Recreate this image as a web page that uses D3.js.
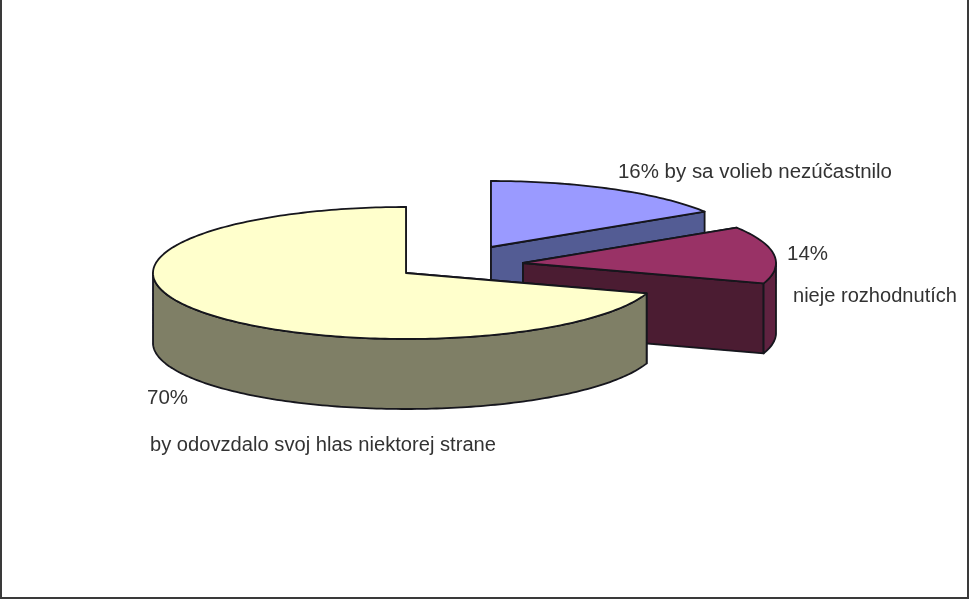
<!DOCTYPE html>
<html>
<head>
<meta charset="utf-8">
<script src="https://cdn.jsdelivr.net/npm/d3@7"></script>
<style>
html,body{margin:0;padding:0;background:#fff;overflow:hidden}
svg{display:block}
text{font-family:"Liberation Sans",Arial,sans-serif;font-size:20px;fill:#333}
</style>
</head>
<body>
<script>
const values = [16, 14, 70];
const percentLabels = ["16%", "14%", "70%"];
const categoryLabels = ["by sa volieb nezúčastnilo", "nieje rozhodnutích", "by odovzdalo svoj hlas niektorej strane"];
const topColors = ["#9a9aff", "#993366", "#ffffcc"];
const cutColors = ["#525c94", "#4c1a32", "#7f7f66"];
const sideColors = ["#525c94", "#5e2440", "#7f7f66"];

const W = 969, H = 599;
const RX = 253, RY = 66, DEPTH = 70;
const centers = [[491, 247], [523, 263], [406, 273]];
const INK = "#14141c";

const svg = d3.select("body").append("svg").attr("width", W).attr("height", H);
svg.append("defs").append("filter").attr("id", "soft")
  .append("feGaussianBlur").attr("stdDeviation", 0.5);

const pie = d3.pie().value(d => d).sort(null);
const arcs = pie(values);

const xs = d3.scaleLinear().domain([-1, 1]).range([-RX, RX]);
const ys = d3.scaleLinear().domain([-1, 1]).range([RY, -RY]);
const line = d3.line();
const pt = (c, a, dz = 0) => [c[0] + xs(Math.sin(a)), c[1] + ys(Math.cos(a)) + dz];
const sweep = (c, a0, a1, dz = 0) => {
  const n = Math.max(2, Math.ceil((a1 - a0) / 0.02));
  return d3.range(n + 1).map(i => pt(c, a0 + (a1 - a0) * i / n, dz));
};
const g = svg.append("g").attr("filter", "url(#soft)");
const poly = (pts, fill) => g.append("path").attr("d", line(pts) + "Z")
  .attr("fill", fill).attr("stroke", INK).attr("stroke-width", 1.8).attr("stroke-linejoin", "round");

arcs.forEach((d, i) => {
  const c = centers[i], a0 = d.startAngle, a1 = d.endAngle;
  const base = [c[0], c[1] + DEPTH];
  [a0, a1].forEach(a => {
    poly([c, pt(c, a), pt(c, a, DEPTH), base], cutColors[i]);
  });
  const f0 = Math.max(a0, Math.PI / 2), f1 = Math.min(a1, 3 * Math.PI / 2);
  if (f1 > f0) {
    poly([...sweep(c, f0, f1), ...sweep(c, f0, f1, DEPTH).reverse()], sideColors[i]);
  }
  poly([c, ...sweep(c, a0, a1)], topColors[i]);
});

// Window frame: left, right and bottom edges
svg.append("path").attr("d", `M1,0V${H - 1}H${W - 1}V0`).attr("fill", "none")
  .attr("stroke", "#3a3a3a").attr("stroke-width", 2);

const t = svg.append("g").attr("filter", "url(#soft)");
const label = (s, x, y, w) => t.append("text").attr("x", x).attr("y", y)
  .attr("textLength", w).attr("lengthAdjust", "spacingAndGlyphs").text(s);
label(percentLabels[0] + " " + categoryLabels[0], 618, 178, 274);
label(percentLabels[1], 787, 260, 41);
label(categoryLabels[1], 793, 302, 164);
label(percentLabels[2], 147, 404, 41);
label(categoryLabels[2], 150, 451, 346);
</script>
</body>
</html>
